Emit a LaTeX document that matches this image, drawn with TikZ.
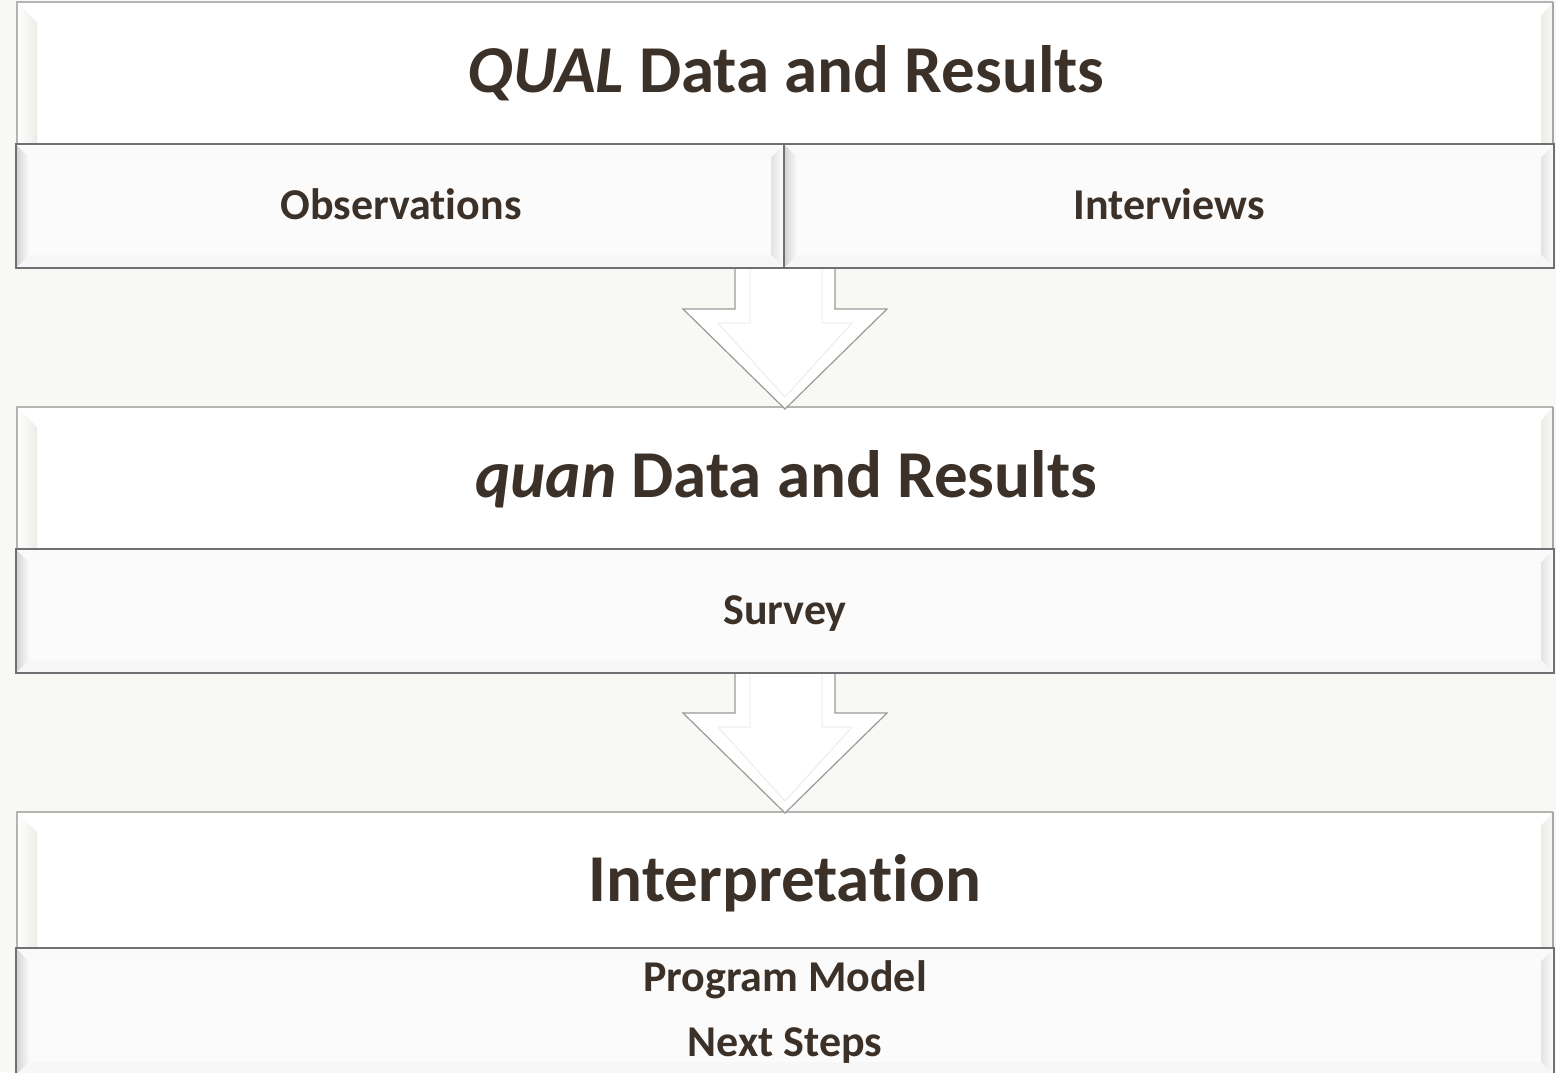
\documentclass[tikz,border=0pt]{standalone}
\usepackage{fontspec}
\setmainfont{Carlito}[Ligatures=NoCommon]
\definecolor{pagebg}{HTML}{F8F8F5}
\definecolor{ink}{HTML}{3B3128}
\definecolor{subface}{HTML}{FBFBFB}
\definecolor{subedge}{HTML}{6E7173}
\definecolor{headedge}{HTML}{B4B4B2}
\definecolor{headshade}{HTML}{ECECE7}
\definecolor{arrowedge}{HTML}{9A9A9A}
\definecolor{arrowinner}{HTML}{EDEDEB}

% Raised panel: x1,y1,x2,y2,inset, left/right shading colours for the bevel
\newcommand\panelbevel[8]{%
  \shade[left color=#6,right color=#7]
    (#1,#2) -- (#1+#5,#2+#5) -- (#1+#5,#4-#5) -- (#1,#4) -- cycle;
  \shade[left color=#8,right color=#7!40!white]
    (#3,#2) -- (#3-#5,#2+#5) -- (#3-#5,#4-#5) -- (#3,#4) -- cycle;
  \fill[white!96!gray] (#1,#2) -- (#3,#2) -- (#3-#5,#2+#5) -- (#1+#5,#2+#5) -- cycle;
  \fill[white!94!gray] (#1,#4) -- (#3,#4) -- (#3-#5,#4-#5) -- (#1+#5,#4-#5) -- cycle;
}

\tikzset{
  headtext/.style={font=\fontsize{67}{71}\selectfont\bfseries, text=ink, anchor=base, inner sep=0pt},
  subtext/.style={font=\fontsize{44}{48}\selectfont\bfseries, text=ink, anchor=base, inner sep=0pt},
  subbox/.style={draw=subedge, line width=2pt},
  headbox/.style={draw=headedge, line width=1.2pt},
  arrowshape/.style={fill=white, draw=arrowedge, line width=1.2pt, line join=miter},
  arrowbevel/.style={draw=arrowinner, line width=1pt},
}

\begin{document}
\begin{tikzpicture}[x=1pt,y=-1pt]
\useasboundingbox (0,0) rectangle (1556,1072);
\fill[pagebg] (0,0) rectangle (1556,1072);

% ---------- header panels ----------
\foreach \ya/\yb in {2/145, 407/549, 812/948}{
  \fill[white] (17,\ya) rectangle (1553,\yb);
  \shade[left color=white,right color=headshade] (17,\ya) -- (37,\ya+20) -- (37,\yb) -- (17,\yb) -- cycle;
  \shade[left color=headshade,right color=white!60!headshade] (1541,\ya+14) -- (1553,\ya) -- (1553,\yb) -- (1541,\yb) -- cycle;
  \draw[headbox] (17,\yb) -- (17,\ya) -- (1553,\ya);
  \draw[draw=gray!70, line width=1.2pt] (1553,\ya) -- (1553,\yb);
}

% ---------- down arrows ----------
\foreach \yt/\ys/\yp in {268/309/409, 673/713/813}{
  \draw[arrowshape] (735,\yt) -- (735,\ys) -- (683,\ys) -- (785,\yp) -- (887,\ys) -- (835,\ys) -- (835,\yt);
  \draw[arrowbevel] (750,\yt) -- (750,\ys+14) -- (718,\ys+14) -- (785,\yp-12) -- (852,\ys+14) -- (822,\ys+14) -- (822,\yt);
}

% ---------- sub panels ----------
\fill[subface] (16,144) rectangle (784,268);
\panelbevel{16}{144}{784}{268}{13}{gray!35!white}{white!96!gray}{gray!22!white}
\fill[subface] (784,144) rectangle (1554,268);
\panelbevel{784}{144}{1554}{268}{13}{gray!35!white}{white!96!gray}{gray!22!white}
\fill[subface] (16,549) rectangle (1554,673);
\panelbevel{16}{549}{1554}{673}{13}{gray!35!white}{white!96!gray}{gray!22!white}
\fill[subface] (16,948) rectangle (1554,1075);
\panelbevel{16}{948}{1554}{1075}{13}{gray!35!white}{white!96!gray}{gray!22!white}

\draw[subbox] (16,144) rectangle (784,268);
\draw[subbox] (784,144) rectangle (1554,268);
\draw[subbox] (16,549) rectangle (1554,673);
\draw[subbox] (16,1080) -- (16,948) -- (1554,948) -- (1554,1080);

% ---------- texts ----------
\node[headtext] (qual) at (786,92) {\textit{QUAL} Data and Results};
\node[subtext] (obs) at (401,219) {Observations};
\node[subtext] (int) at (1169,219) {Interviews};
\node[headtext] (quan) at (786,497) {\textit{quan} Data and Results};
\node[subtext] (survey) at (785,624) {Survey};
\node[headtext] (interp) at (785,901) {Interpretation};
\node[subtext] (model) at (785,991) {Program Model};
\node[subtext] (next) at (785,1056) {Next Steps};
\end{tikzpicture}
\end{document}
